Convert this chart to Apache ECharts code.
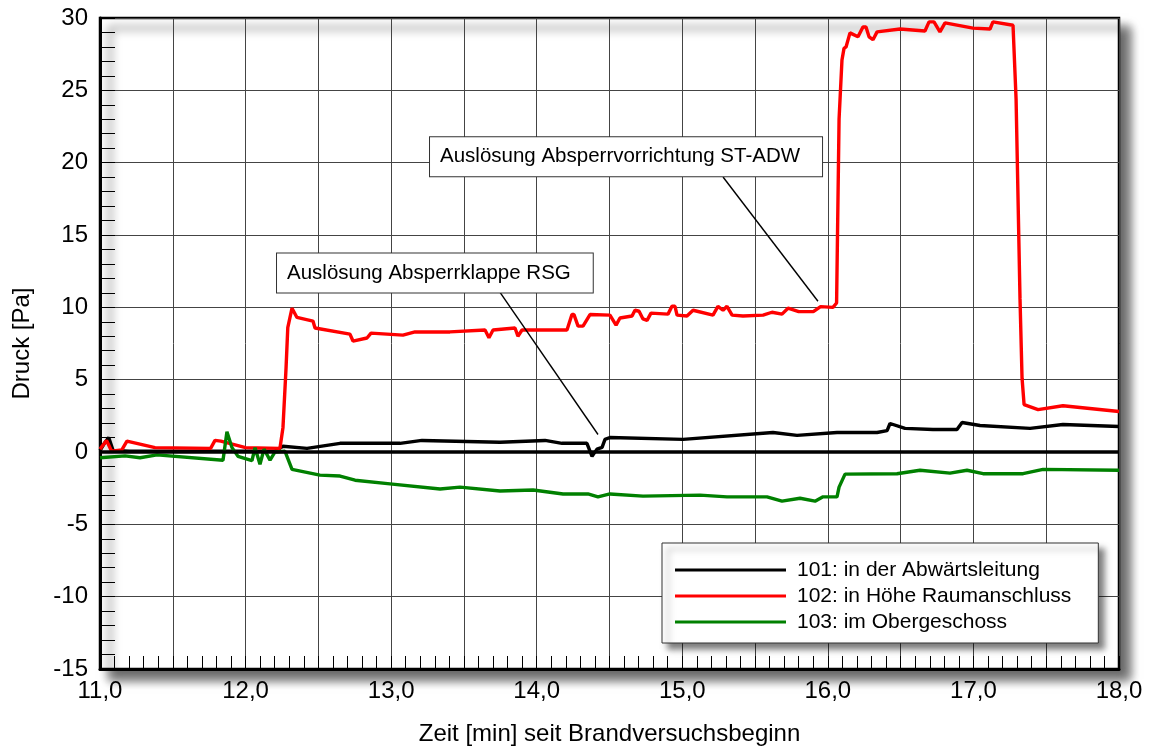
<!DOCTYPE html>
<html>
<head>
<meta charset="utf-8">
<script src="https://cdn.jsdelivr.net/npm/echarts@6/dist/echarts.min.js"></script>
<style>
  body { margin: 0; background: #fff; }
  #druck { width: 1154px; height: 751px; }
</style>
</head>
<body>
<div id="druck"></div>
<script>
// Messwerte [Zeit in min, Druck in Pa]
const p101 = [[11.0,0.1],[11.03,0.6],[11.06,1.0],[11.09,0.1],[11.2,0.05],[12.2,0.05],[12.257,0.4],[12.422,0.25],[12.649,0.6],[13.061,0.6],[13.212,0.8],[13.748,0.67],[14.057,0.8],[14.174,0.6],[14.345,0.6],[14.38,-0.3],[14.414,0.2],[14.449,0.32],[14.469,0.87],[14.503,1.0],[15.005,0.87],[15.623,1.35],[15.788,1.15],[16.063,1.35],[16.338,1.35],[16.407,1.48],[16.427,1.97],[16.53,1.63],[16.722,1.56],[16.887,1.56],[16.922,2.04],[17.045,1.83],[17.389,1.63],[17.615,1.9],[18.0,1.76]];

const p102 = [[11.0,0.2],[11.045,0.8],[11.08,0.05],[11.15,0.15],[11.185,0.75],[11.378,0.3],[11.76,0.25],[11.79,0.8],[11.83,0.75],[12.0,0.3],[12.236,0.25],[12.257,1.7],[12.278,5.8],[12.29,8.6],[12.319,9.94],[12.353,9.3],[12.463,9.05],[12.477,8.57],[12.717,8.15],[12.738,7.67],[12.834,7.88],[12.862,8.22],[13.081,8.08],[13.164,8.3],[13.404,8.3],[13.645,8.43],[13.672,7.9],[13.7,8.43],[13.851,8.57],[13.871,8.0],[13.899,8.43],[14.208,8.43],[14.242,9.5],[14.256,9.5],[14.284,8.7],[14.318,8.7],[14.366,9.5],[14.503,9.46],[14.545,8.77],[14.572,9.26],[14.655,9.4],[14.675,9.8],[14.703,9.73],[14.73,9.2],[14.758,9.1],[14.785,9.6],[14.902,9.53],[14.929,10.07],[14.95,10.07],[14.964,9.46],[15.032,9.4],[15.074,9.8],[15.211,9.46],[15.245,10.07],[15.28,9.8],[15.307,10.07],[15.342,9.46],[15.417,9.4],[15.555,9.46],[15.616,9.66],[15.685,9.53],[15.726,9.94],[15.8,9.7],[15.9,9.7],[15.95,10.05],[16.035,10.0],[16.06,10.3],[16.077,23.0],[16.097,27.1],[16.111,27.9],[16.125,28.0],[16.152,28.97],[16.207,28.7],[16.241,29.38],[16.262,29.38],[16.283,28.7],[16.31,28.5],[16.338,29.04],[16.496,29.24],[16.667,29.1],[16.695,29.73],[16.729,29.73],[16.77,29.04],[16.805,29.66],[16.997,29.3],[17.114,29.24],[17.134,29.73],[17.272,29.5],[17.293,24.4],[17.32,10.6],[17.334,5.1],[17.348,3.27],[17.444,2.93],[17.615,3.2],[18.0,2.8]];

const p103 = [[11.0,-0.4],[11.172,-0.27],[11.275,-0.4],[11.392,-0.2],[11.845,-0.57],[11.872,1.4],[11.907,0.3],[11.948,-0.3],[12.044,-0.6],[12.065,0.3],[12.099,-0.85],[12.127,0.2],[12.168,-0.57],[12.202,0],[12.271,0.05],[12.319,-1.2],[12.511,-1.6],[12.649,-1.66],[12.752,-1.95],[12.992,-2.2],[13.336,-2.56],[13.473,-2.43],[13.748,-2.7],[13.975,-2.63],[14.181,-2.9],[14.352,-2.9],[14.421,-3.1],[14.503,-2.9],[14.73,-3.05],[15.122,-2.98],[15.307,-3.1],[15.582,-3.1],[15.685,-3.4],[15.809,-3.2],[15.912,-3.4],[15.967,-3.1],[16.063,-3.1],[16.077,-2.43],[16.118,-1.53],[16.475,-1.5],[16.633,-1.26],[16.839,-1.46],[16.956,-1.26],[17.066,-1.5],[17.341,-1.5],[17.478,-1.2],[18.0,-1.26]];

const seriesNames = ['101: in der Abwärtsleitung', '102: in Höhe Raumanschluss', '103: im Obergeschoss'];
const seriesColors = ['#000000', '#ff0000', '#008000'];

// Beschriftungen: Kasten oben links, Linienanfang, Pfeilspitze (Datenkoordinaten)
const notes = [
  { text: 'Auslösung Absperrvorrichtung ST-ADW', box: [13.267, 21.76], from: [15.28, 19.01], to: [15.932, 10.42] },
  { text: 'Auslösung Absperrklappe RSG', box: [12.216, 13.72], from: [13.748, 11.04], to: [14.421, 1.21] }
];

const FONT = '"Liberation Sans", Arial, sans-serif';

const chart = echarts.init(document.getElementById('druck'));

const option = {
  animation: false,
  textStyle: { fontFamily: FONT },
  grid: {
    left: 100, right: 35, top: 18, bottom: 78,
    show: true,
    backgroundColor: '#fff',
    borderColor: '#000',
    borderWidth: 2.5,
    shadowColor: 'rgba(0,0,0,0.6)',
    shadowBlur: 10,
    shadowOffsetX: 10,
    shadowOffsetY: 10
  },
  legend: {
    orient: 'vertical',
    left: 662, top: 543,
    icon: 'rect',
    itemWidth: 111, itemHeight: 3,
    itemGap: 2,
    padding: [15, 27, 9, 13],
    backgroundColor: '#fff',
    borderColor: '#333',
    borderWidth: 1,
    shadowColor: 'rgba(0,0,0,0.5)',
    shadowBlur: 6,
    shadowOffsetX: 6,
    shadowOffsetY: 6,
    textStyle: { fontSize: 21, color: '#000', fontFamily: FONT, lineHeight: 24, padding: [0, 0, 0, 6] },
    data: seriesNames
  },
  xAxis: {
    type: 'value',
    min: 11, max: 18, interval: 0.5,
    name: 'Zeit [min] seit Brandversuchsbeginn',
    nameLocation: 'middle',
    nameGap: 53,
    nameTextStyle: { fontSize: 24, color: '#000', fontFamily: FONT },
    axisLine: { onZero: false, lineStyle: { color: '#000', width: 3 } },
    axisTick: { inside: true, length: 13, lineStyle: { color: '#000' } },
    minorTick: { show: true, splitNumber: 5, length: 13, lineStyle: { color: '#000' } },
    splitLine: { show: true, lineStyle: { color: '#444', width: 1 } },
    axisLabel: {
      fontSize: 24, color: '#000', margin: 10, showMinLabel: true, showMaxLabel: true,
      formatter: v => (Math.abs(v - Math.round(v)) < 1e-6 ? v.toFixed(1).replace('.', ',') : '')
    }
  },
  yAxis: {
    type: 'value',
    min: -15, max: 30, interval: 5,
    name: 'Druck [Pa]',
    nameLocation: 'middle',
    nameGap: 66,
    nameTextStyle: { fontSize: 24, color: '#000', fontFamily: FONT },
    axisLine: { show: true, onZero: false, lineStyle: { color: '#000', width: 3 } },
    axisTick: { show: true, inside: true, length: 15, lineStyle: { color: '#000' } },
    minorTick: { show: true, splitNumber: 5, length: 15, lineStyle: { color: '#000' } },
    splitLine: { show: true, lineStyle: { color: '#444', width: 1 } },
    axisLabel: { fontSize: 24, color: '#000', margin: 12 }
  },
  series: [p101, p102, p103].map((d, i) => ({
    name: seriesNames[i],
    type: 'line',
    data: d,
    symbol: 'none',
    lineStyle: { color: seriesColors[i], width: 3.4 },
    itemStyle: { color: seriesColors[i] },
    markLine: i === 0 ? {
      silent: true, symbol: 'none', label: { show: false },
      lineStyle: { color: '#000', width: 3.6, type: 'solid' },
      data: [{ yAxis: 0 }]
    } : undefined
  }))
};

chart.setOption(option);

// Beschriftungskästen mit Hinweislinien
const px = p => chart.convertToPixel({ gridIndex: 0 }, p);
const graphics = [];
notes.forEach(n => {
  const a = px(n.from), b = px(n.to), c = px(n.box);
  graphics.push({
    type: 'line', z: 10,
    shape: { x1: a[0], y1: a[1], x2: b[0], y2: b[1] },
    style: { stroke: '#000', lineWidth: 1.4 }
  });
  graphics.push({
    type: 'text', z: 11, x: c[0], y: c[1],
    style: {
      text: n.text, font: '20.5px ' + FONT, fill: '#000',
      backgroundColor: '#fff', borderColor: '#333', borderWidth: 1,
      padding: [9, 22, 9, 10]
    }
  });
});
chart.setOption({ graphic: graphics });
</script>
</body>
</html>
